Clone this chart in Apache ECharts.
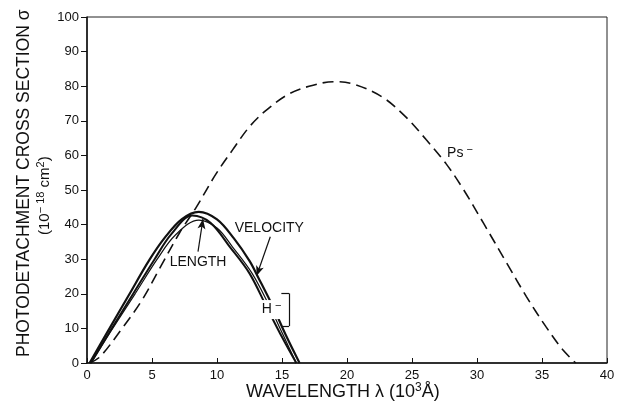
<!DOCTYPE html>
<html>
<head>
<meta charset="utf-8">
<script src="https://cdn.jsdelivr.net/npm/echarts@6/dist/echarts.min.js"></script>
<style>
  html, body { margin: 0; padding: 0; background: #fff; }
  #main { width: 618px; height: 411px; }
</style>
</head>
<body>
<div id="main"></div>
<script>
// wavelength (10^3 A) vs cross section (10^-18 cm^2)
var psMinus = [[0.2,0],[1,1.8],[2.6,9.5],[4.2,18],[5.6,27.4],[7.1,37.5],[8.4,45],[9.9,54.5],[11.2,61.6],
  [12.5,68.3],[13.8,73.1],[15.6,77.9],[17.4,80.3],[19,81.3],[20.5,80.6],[22.7,76.9],[24.5,71.2],
  [26.1,64.5],[27.6,57.7],[28.9,50.5],[30.5,40.4],[32.3,28.8],[33.8,19.2],[35.3,10.5],[36.6,3.8],[37.6,0]];
var hVelocity = [[0.2,0],[1.5,8.5],[3.2,19.5],[4.8,29.8],[6,36.3],[7.3,41.6],[8.6,43.7],[10,41.5],
  [11.3,36],[12.5,29.5],[13.2,24.5],[14.3,16.3],[15.3,8],[16.35,0]];
var hLength = [[0.3,0],[1.7,8.7],[3.6,20.3],[5.2,30],[6.5,37.3],[8.1,42.6],[9.5,40.5],[11,33.5],
  [12.5,25.9],[13.8,16.3],[15,7.5],[16.1,0]];
var hThin = [[0.3,0],[1.8,9],[3.7,20],[5.4,30],[6.8,37],[8.6,41.3],[10,39],[11.2,33.5],
  [12.7,25.9],[14.05,16.3],[15.1,8],[16.1,0]];
var xTicks = [0, 5, 10, 15, 20, 25, 30, 35, 40];
var yTicks = [0, 10, 20, 30, 40, 50, 60, 70, 80, 90, 100];

var FONT = 'Liberation Sans';
var chart = echarts.init(document.getElementById('main'));

function curve(name, data, width, dashed) {
  return {
    name: name, type: 'line', data: data, smooth: 0.35, showSymbol: false, silent: true,
    lineStyle: { color: '#111', width: width, type: dashed ? [11, 6] : 'solid' }
  };
}

var arrows = {
  silent: true, symbol: ['none', 'arrow'], symbolSize: [6, 10],
  lineStyle: { color: '#111', width: 1.2, type: 'solid' }, label: { show: false },
  data: [
    [{ coord: [14.1, 36.5] }, { coord: [13.05, 25.2] }],
    [{ coord: [8.54, 32.2] }, { coord: [8.92, 41.6] }]
  ]
};
var bracket = {
  silent: true, symbol: ['none', 'none'],
  lineStyle: { color: '#111', width: 1.2, type: 'solid' }, label: { show: false },
  data: [
    [{ coord: [14.95, 20.1] }, { coord: [15.55, 20.1] }],
    [{ coord: [15.55, 20.1] }, { coord: [15.55, 10.7] }],
    [{ coord: [15.55, 10.7] }, { coord: [14.95, 10.7] }]
  ]
};

var sv = curve('velocity', hVelocity, 2.2, false);
sv.markLine = arrows;
var sl = curve('length', hLength, 2, false);
sl.markLine = bracket;

chart.setOption({
  animation: false,
  backgroundColor: '#fff',
  grid: { left: 87, right: 11, top: 17, bottom: 48, show: true, borderColor: '#222', borderWidth: 1 },
  xAxis: {
    type: 'value', min: 0, max: 40, interval: 5,
    axisLine: { show: true, lineStyle: { color: '#111', width: 1.5 } },
    axisTick: { show: true, inside: true, length: 5, lineStyle: { color: '#111', width: 1 } },
    axisLabel: { color: '#111', fontFamily: FONT, fontSize: 13, margin: 6 },
    splitLine: { show: false }
  },
  yAxis: {
    type: 'value', min: 0, max: 100, interval: 10,
    axisLine: { show: true, lineStyle: { color: '#111', width: 1.5 } },
    axisTick: { show: true, inside: false, length: 6, lineStyle: { color: '#111', width: 1 } },
    axisLabel: { color: '#111', fontFamily: FONT, fontSize: 13, margin: 8 },
    splitLine: { show: false }
  },
  series: [
    curve('Ps-', psMinus, 1.6, true),
    sv,
    sl,
    curve('thin', hThin, 1.2, false)
  ]
});

function px(x, y) { return chart.convertToPixel({ gridIndex: 0 }, [x, y]); }

var rich = {
  a: { fontFamily: FONT, fontSize: 14, fill: '#111' },
  s: { fontFamily: FONT, fontSize: 11, fill: '#111', verticalAlign: 'bottom', padding: [0, 0, 8, 0] }
};

function label(x, y, text, size) {
  var p = px(x, y);
  return {
    type: 'text', left: p[0], top: p[1] - size / 2 - 1, silent: true,
    style: { text: text, fontFamily: FONT, fontSize: size, fill: '#111' }
  };
}

var ps = px(27.7, 60.4);
var hm = px(13.44, 15.3);

chart.setOption({
  graphic: [
    label(11.36, 38.7, 'VELOCITY', 14),
    label(6.36, 29.0, 'LENGTH', 14),
    {
      type: 'text', left: ps[0], top: ps[1] - 10, silent: true,
      style: { text: '{a|Ps}{s| −}', rich: rich }
    },
    {
      type: 'text', left: hm[0] - 1, top: hm[1] - 10, silent: true, z: 10,
      style: { text: '{a|H}{s| −}', rich: rich, backgroundColor: '#fff', padding: [0, 1, 0, 1] }
    },
    {
      type: 'text', left: 246, top: 382, silent: true,
      style: {
        text: '{a|WAVELENGTH λ (10}{s|3}{a|Å)}',
        rich: {
          a: { fontFamily: FONT, fontSize: 18, fill: '#111' },
          s: { fontFamily: FONT, fontSize: 12, fill: '#111', verticalAlign: 'bottom', padding: [0, 0, 9, 0] }
        }
      }
    },
    {
      type: 'text', x: 15, y: 357, rotation: Math.PI / 2, silent: true,
      style: { text: 'PHOTODETACHMENT CROSS SECTION σ', fontFamily: FONT, fontSize: 17.5, fill: '#111' }
    },
    {
      type: 'text', x: 35, y: 235, rotation: Math.PI / 2, silent: true,
      style: {
        text: '{a|(10}{s|− 18}{a| cm}{s|2}{a|)}',
        rich: {
          a: { fontFamily: FONT, fontSize: 15, fill: '#111' },
          s: { fontFamily: FONT, fontSize: 11, fill: '#111', verticalAlign: 'bottom', padding: [0, 0, 8, 0] }
        }
      }
    }
  ]
});
</script>
</body>
</html>
